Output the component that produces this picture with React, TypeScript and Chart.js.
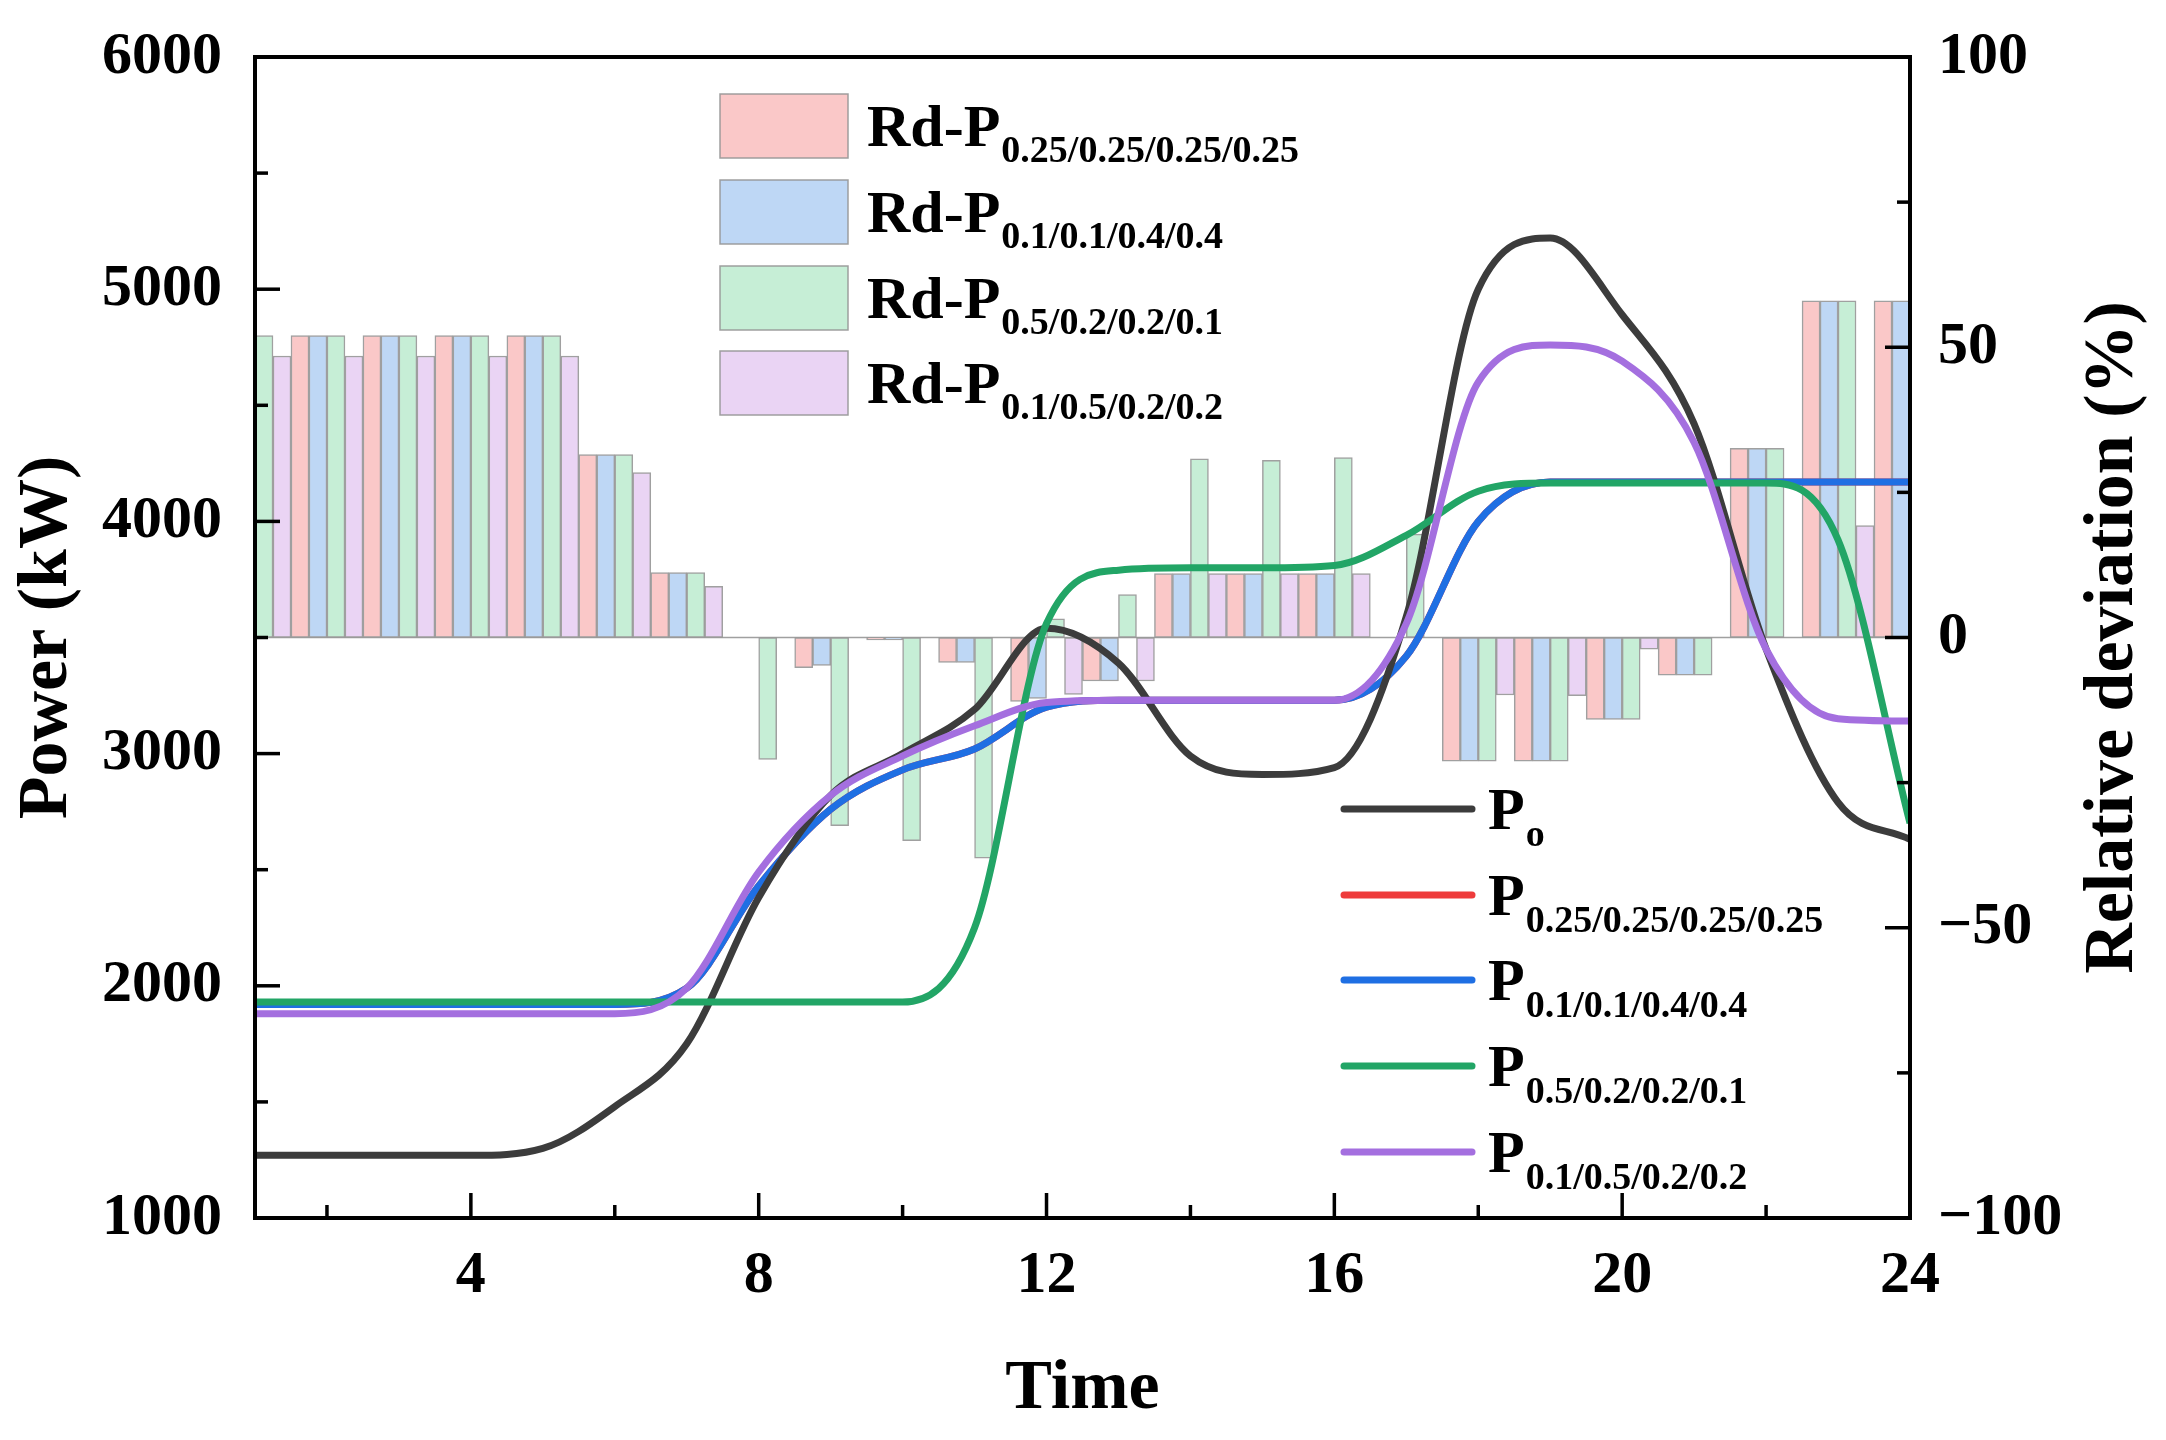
import { useEffect, useRef } from "react"
import { Chart, registerables, type Plugin } from "chart.js"

Chart.register(...registerables)

// hours 1..24
const HOURS = [1, 2, 3, 4, 5, 6, 7, 8, 9, 10, 11, 12, 13, 14, 15, 16, 17, 18, 19, 20, 21, 22, 23, 24]

// power curves (kW)
const P_O = [1270, 1270, 1270, 1270, 1300, 1480, 1750, 2380, 2820, 3000, 3190, 3540, 3390, 2990, 2910, 2940, 3590, 5000, 5220, 4890, 4420, 3450, 2790, 2630]
const P_025 = [1920, 1920, 1920, 1920, 1920, 1920, 1990, 2430, 2760, 2930, 3020, 3200, 3230, 3230, 3230, 3230, 3420, 4000, 4170, 4170, 4170, 4170, 4170, 4170]
const P_01_04 = [1920, 1920, 1920, 1920, 1920, 1920, 1990, 2430, 2760, 2930, 3020, 3200, 3230, 3230, 3230, 3230, 3420, 4000, 4170, 4170, 4170, 4170, 4170, 4170]
const P_05_01 = [1930, 1930, 1930, 1930, 1930, 1930, 1930, 1930, 1930, 1930, 2250, 3560, 3790, 3800, 3800, 3810, 3940, 4130, 4165, 4165, 4165, 4165, 3920, 2700]
const P_01_05 = [1880, 1880, 1880, 1880, 1880, 1880, 1990, 2490, 2820, 2990, 3120, 3220, 3230, 3230, 3230, 3230, 3560, 4600, 4760, 4690, 4340, 3450, 3150, 3140]

// relative deviation (%)
const RD_025 = [52, 52, 52, 52, 52, 31.5, 11.2, 0, -5.2, -0.4, -4.3, -11, -7.5, 11, 11, 11, 0, -21.3, -21.3, -14.1, -6.5, 32.6, 58, 58]
const RD_01_04 = [52, 52, 52, 52, 52, 31.5, 11.2, 0, -4.8, -0.4, -4.3, -10.5, -7.5, 11, 11, 11, 0, -21.3, -21.3, -14.1, -6.5, 32.6, 58, 58]
const RD_05_01 = [52, 52, 52, 52, 52, 31.5, 11.2, -21, -32.4, -35, -38, 3.2, 7.4, 30.8, 30.5, 31, 17.8, -21.3, -21.3, -14.1, -6.5, 32.6, 58, 58]
const RD_01_05 = [48.5, 48.5, 48.5, 48.5, 48.5, 28.4, 8.8, 0, 0, 0, 0, -9.8, -7.5, 11, 11, 11, 0, -9.9, -10, -2, 0, 0, 19.3, 19]

const X_TICKS = [4, 8, 12, 16, 20, 24]
const X_MINOR = [2, 6, 10, 14, 18, 22]
const POWER_TICKS = [1000, 2000, 3000, 4000, 5000, 6000]
const POWER_MINOR = [1500, 2500, 3500, 4500, 5500]
const DEV_TICKS = [-100, -50, 0, 50, 100]
const DEV_MINOR = [-75, -25, 25, 75]

const SUBS = ["0.25/0.25/0.25/0.25", "0.1/0.1/0.4/0.4", "0.5/0.2/0.2/0.1", "0.1/0.5/0.2/0.2"]
const BAR_COLORS = ["rgb(250, 200, 200)", "rgb(190, 215, 245)", "rgb(198, 238, 214)", "rgb(234, 212, 244)"]
const LINE_COLORS = ["#3c3c3c", "#ee3b3b", "#1f6fe3", "#22a566", "#a46fdf"]

const SERIF = '"Liberation Serif", "Times New Roman", serif'
const bold = (px: number) => `bold ${px}px ${SERIF}`

const pts = (ys: number[]) => HOURS.map((h, i) => ({ x: h, y: ys[i] }))

// keep tick labels from pushing the plot area around
const noPad = (s: any) => {
  s.paddingTop = 0
  s.paddingBottom = 0
  s.paddingLeft = 0
  s.paddingRight = 0
}

// frame, inward ticks, zero line, right title and both legends
const decorations: Plugin = {
  id: "decorations",
  beforeDatasetsDraw(chart) {
    const { ctx, chartArea: a } = chart
    const y0 = chart.scales.y1.getPixelForValue(0)
    ctx.save()
    ctx.strokeStyle = "rgba(150,150,150,0.9)"
    ctx.lineWidth = 1.5
    ctx.beginPath()
    ctx.moveTo(a.left, y0)
    ctx.lineTo(a.right, y0)
    ctx.stroke()
    ctx.restore()
  },
  afterDraw(chart) {
    const { ctx, chartArea: a } = chart
    const sx = chart.scales.x
    const sy = chart.scales.y
    const sy1 = chart.scales.y1
    ctx.save()
    ctx.strokeStyle = "#000"
    ctx.lineWidth = 4
    ctx.strokeRect(a.left, a.top, a.right - a.left, a.bottom - a.top)

    ctx.lineWidth = 3.5
    const tick = (x1: number, y1: number, x2: number, y2: number) => {
      ctx.beginPath()
      ctx.moveTo(x1, y1)
      ctx.lineTo(x2, y2)
      ctx.stroke()
    }
    const MAJ = 25
    const MIN = 13
    X_TICKS.forEach((v) => tick(sx.getPixelForValue(v), a.bottom, sx.getPixelForValue(v), a.bottom - MAJ))
    X_MINOR.forEach((v) => tick(sx.getPixelForValue(v), a.bottom, sx.getPixelForValue(v), a.bottom - MIN))
    POWER_TICKS.forEach((v) => tick(a.left, sy.getPixelForValue(v), a.left + MAJ, sy.getPixelForValue(v)))
    POWER_MINOR.forEach((v) => tick(a.left, sy.getPixelForValue(v), a.left + MIN, sy.getPixelForValue(v)))
    DEV_TICKS.forEach((v) => tick(a.right, sy1.getPixelForValue(v), a.right - MAJ, sy1.getPixelForValue(v)))
    DEV_MINOR.forEach((v) => tick(a.right, sy1.getPixelForValue(v), a.right - MIN, sy1.getPixelForValue(v)))

    // right axis title, reading bottom to top
    ctx.fillStyle = "#000"
    ctx.save()
    ctx.translate(2114, (a.top + a.bottom) / 2)
    ctx.rotate(-Math.PI / 2)
    ctx.font = bold(70)
    ctx.textAlign = "center"
    ctx.textBaseline = "middle"
    ctx.fillText("Relative deviation (%)", 0, 0)
    ctx.restore()

    ctx.textAlign = "left"
    ctx.textBaseline = "alphabetic"

    // bar legend
    const boxTops = [94, 180, 266, 351]
    SUBS.forEach((sub, i) => {
      const top = boxTops[i]
      ctx.fillStyle = BAR_COLORS[i]
      ctx.fillRect(720, top, 128, 64)
      ctx.strokeStyle = "rgba(150,150,150,0.9)"
      ctx.lineWidth = 1.5
      ctx.strokeRect(720, top, 128, 64)
      ctx.fillStyle = "#000"
      ctx.font = bold(60)
      const base = top + 32 + 20
      ctx.fillText("Rd-P", 867, base)
      const w = ctx.measureText("Rd-P").width
      ctx.font = bold(38)
      ctx.fillText(sub, 867 + w + 1, base + 16)
    })

    // line legend
    const rowY = [809, 895, 980, 1066, 1152]
    const lineSubs = ["o", ...SUBS]
    lineSubs.forEach((sub, i) => {
      const y = rowY[i]
      ctx.strokeStyle = LINE_COLORS[i]
      ctx.lineWidth = 7
      ctx.lineCap = "round"
      ctx.beginPath()
      ctx.moveTo(1344, y)
      ctx.lineTo(1472, y)
      ctx.stroke()
      ctx.fillStyle = "#000"
      ctx.font = bold(60)
      ctx.fillText("P", 1488, y + 20)
      const w = ctx.measureText("P").width
      ctx.font = bold(38)
      ctx.fillText(sub, 1488 + w + 1, y + 37)
    })
    ctx.restore()
  },
}

export default function App() {
  const chartRef = useRef<HTMLCanvasElement>(null)
  const chartInstance = useRef<Chart | null>(null)

  useEffect(() => {
    document.body.style.margin = "0"
    if (!chartRef.current) return
    const ctx = chartRef.current.getContext("2d")
    if (!ctx) return

    if (chartInstance.current) {
      chartInstance.current.destroy()
    }

    const lineSeries = [P_O, P_025, P_01_04, P_05_01, P_01_05]
    // drawing order: purple on top, then green, black, blue, red
    const lineOrder = [3, 5, 4, 2, 1]
    const lineDatasets = lineSeries.map((ys, i) => ({
      type: "line" as const,
      label: i === 0 ? "Po" : "P" + SUBS[i - 1],
      data: pts(ys),
      yAxisID: "y",
      borderColor: LINE_COLORS[i],
      borderWidth: 7,
      pointRadius: 0,
      fill: false,
      cubicInterpolationMode: "monotone" as const,
      order: lineOrder[i],
      clip: 0,
    }))

    const barSeries = [RD_025, RD_01_04, RD_05_01, RD_01_05]
    const barDatasets = barSeries.map((ys, i) => ({
      type: "bar" as const,
      label: "Rd-P" + SUBS[i],
      data: pts(ys),
      yAxisID: "y1",
      backgroundColor: BAR_COLORS[i],
      borderColor: "rgba(150,150,150,0.9)",
      borderWidth: 1.5,
      borderSkipped: false,
      categoryPercentage: 1,
      barPercentage: 1,
      order: 10,
      clip: 0,
    }))

    const tickFont = { family: SERIF, size: 60, weight: "bold" as const }
    const titleFont = { family: SERIF, size: 70, weight: "bold" as const }

    chartInstance.current = new Chart(ctx, {
      type: "line",
      data: { datasets: [...lineDatasets, ...barDatasets] as any },
      options: {
        responsive: false,
        animation: false,
        layout: { padding: { top: 57, left: 0, right: 0, bottom: 0 } },
        plugins: { legend: { display: false }, tooltip: { enabled: false } },
        scales: {
          x: {
            type: "linear",
            min: 1,
            max: 24,
            offset: false,
            grid: { display: false, drawTicks: false },
            border: { display: false },
            afterBuildTicks: (s) => {
              s.ticks = X_TICKS.map((v) => ({ value: v }))
            },
            afterFit: (s) => {
              s.height = 222
              noPad(s)
            },
            ticks: { font: tickFont, color: "#000", padding: 22, maxRotation: 0, autoSkip: false, callback: (v) => String(v) },
            title: { display: true, text: "Time", font: titleFont, color: "#000", padding: { top: 0, bottom: 8 } },
          },
          y: {
            type: "linear",
            position: "left",
            min: 1000,
            max: 6000,
            grid: { display: false, drawTicks: false },
            border: { display: false },
            afterBuildTicks: (s) => {
              s.ticks = POWER_TICKS.map((v) => ({ value: v }))
            },
            afterFit: (s) => {
              s.width = 255
              noPad(s)
            },
            ticks: { font: tickFont, color: "#000", padding: 33, callback: (v) => String(v) },
            title: { display: true, text: "Power (kW)", font: titleFont, color: "#000", padding: { top: 6, bottom: 0 } },
          },
          y1: {
            type: "linear",
            position: "right",
            min: -100,
            max: 100,
            grid: { display: false, drawTicks: false },
            border: { display: false },
            afterBuildTicks: (s) => {
              s.ticks = DEV_TICKS.map((v) => ({ value: v }))
            },
            afterFit: (s) => {
              s.width = 256
              noPad(s)
            },
            ticks: {
              font: tickFont,
              color: "#000",
              padding: 28,
              callback: (v) => (Number(v) < 0 ? "\u2212" + Math.abs(Number(v)) : String(v)),
            },
          },
        },
      },
      plugins: [decorations],
    })

    return () => {
      if (chartInstance.current) {
        chartInstance.current.destroy()
        chartInstance.current = null
      }
    }
  }, [])

  return (
    <div style={{ width: 2166, height: 1440, background: "#fff" }}>
      <canvas ref={chartRef} width={2166} height={1440} style={{ display: "block" }} />
    </div>
  )
}
